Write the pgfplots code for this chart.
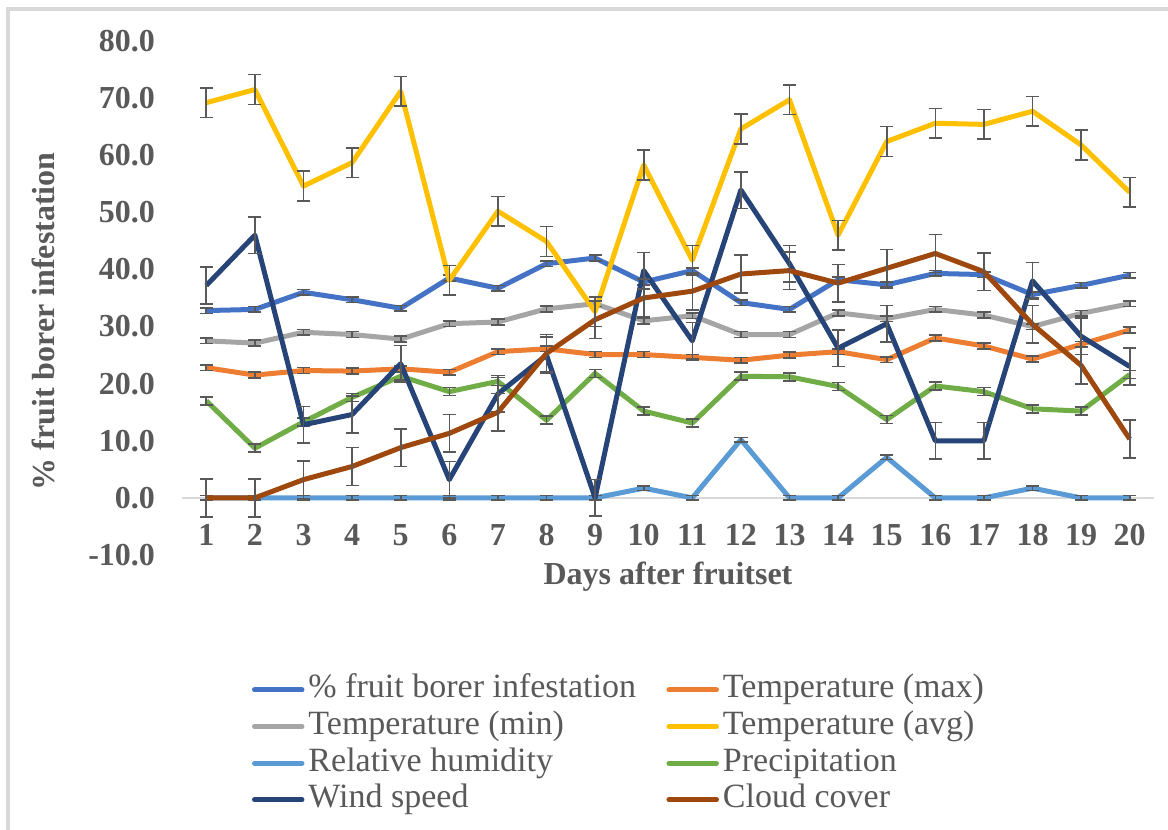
\documentclass[border=0pt]{standalone}
\usepackage{pgfplots}
\pgfplotsset{compat=1.18}
\usepackage{pgfplotstable}
\usepackage{fontspec}
\setmainfont{Liberation Serif}

\definecolor{txt}{HTML}{595959}
\definecolor{ebar}{HTML}{595959}
\definecolor{cinf}{HTML}{4472C4}
\definecolor{cmax}{HTML}{ED7D31}
\definecolor{cmin}{HTML}{A5A5A5}
\definecolor{cavg}{HTML}{FFC000}
\definecolor{crh}{HTML}{5B9BD5}
\definecolor{cprec}{HTML}{70AD47}
\definecolor{cwind}{HTML}{264478}
\definecolor{ccloud}{HTML}{9E480E}

% day, infestation and weather readings per day
\pgfplotstableread{
day inf  tmax tmin tavg rh   prec wind cloud
1   32.8 22.8 27.5 69.2 0    17.0 37.2 0
2   33.0 21.5 27.1 71.5 0    8.7  46.0 0
3   36.0 22.3 29.0 54.6 0    13.3 12.8 3.2
4   34.7 22.2 28.6 58.7 0    17.6 14.6 5.5
5   33.2 22.6 27.8 71.2 0    21.3 23.5 8.8
6   38.5 22.0 30.5 38.1 0    18.6 3.2  11.3
7   36.7 25.6 30.8 50.2 0    20.4 18.2 15.0
8   41.0 26.1 33.1 44.9 0    13.6 25.0 25.3
9   42.0 25.1 34.0 32.6 0    21.8 0    31.2
10  37.8 25.1 31.0 58.3 1.7  15.2 39.8 35.0
11  39.8 24.6 31.9 41.6 0    13.1 27.5 36.2
12  34.2 24.1 28.6 64.6 10.2 21.3 53.9 39.2
13  33.0 25.0 28.6 69.7 0    21.2 41.0 39.8
14  38.2 25.6 32.4 46.0 0    19.5 26.2 37.6
15  37.3 24.2 31.4 62.4 7.1  13.7 30.5 40.2
16  39.3 28.0 33.0 65.6 0    19.6 10.0 42.8
17  39.1 26.6 32.0 65.4 0    18.6 10.0 39.6
18  35.6 24.3 30.0 67.7 1.7  15.6 38.0 30.4
19  37.2 26.9 32.3 61.8 0    15.2 28.3 23.2
20  39.0 29.4 34.0 53.5 0    21.6 23.0 10.3
}\data

\begin{document}
\begin{tikzpicture}
\useasboundingbox (-91pt,-137.5pt) rectangle (493pt,277.5pt);
\draw[black!15, line width=1.6pt] (-87pt,-150pt) -- (-87pt,273pt) -- (510pt,273pt);
\begin{axis}[
  at={(0,0)}, anchor=south west,
  width=486pt, height=257pt, scale only axis,
  xmin=0.5, xmax=20.5, ymin=-10, ymax=80,
  axis line style={draw=none},
  major tick length=0pt,
  xtick={1,2,...,20},
  xticklabels={1,2,3,4,5,6,7,8,9,10,11,12,13,14,15,16,17,18,19,20},
  ytick={-10,0,10,20,30,40,50,60,70,80},
  yticklabels={-10.0,0.0,10.0,20.0,30.0,40.0,50.0,60.0,70.0,80.0},
  ticklabel style={font=\bfseries\fontsize{16}{16}\selectfont, text=txt},
  xticklabel style={anchor=center, yshift=10pt},
  yticklabel style={anchor=east, xshift=-10pt},
  clip=false,
  legend columns=2,
  legend cell align=left,
  legend style={at={(0.072,-0.2315)}, anchor=north west, draw=none, fill=none,
    inner sep=0pt, outer sep=0pt, row sep=2.3pt,
    font=\fontsize{17}{17}\selectfont, text=txt,
    nodes={inner sep=0pt, text height=12pt, text depth=4pt},
    /tikz/every odd column/.append style={column sep=2pt}},
  legend image code/.code={\draw[#1, line cap=round] (1.25pt,0pt) -- (25pt,0pt);},
  every axis plot/.append style={line width=2.5pt, line join=round, mark=none},
  error bars/error bar style={line width=0.8pt, color=ebar, line cap=butt},
  error bars/error mark options={rotate=90, mark size=3.3pt, line width=0.8pt, color=ebar},
]
\draw[black!15, line width=0.75pt] (axis cs:0.5,0) -- (axis cs:20.5,0);
\addplot[cinf, error bars/.cd, y dir=both, y fixed=0.5] table[x=day, y=inf] {\data};
\addlegendentry{\makebox[179pt][l]{\% fruit borer infestation}}
\addplot[cmax, error bars/.cd, y dir=both, y fixed=0.5] table[x=day, y=tmax] {\data};
\addlegendentry{Temperature (max)}
\addplot[cmin, error bars/.cd, y dir=both, y fixed=0.5] table[x=day, y=tmin] {\data};
\addlegendentry{\makebox[179pt][l]{Temperature (min)}}
\addplot[cavg, error bars/.cd, y dir=both, y fixed=2.6] table[x=day, y=tavg] {\data};
\addlegendentry{Temperature (avg)}
\addplot[crh, error bars/.cd, y dir=both, y fixed=0.4] table[x=day, y=rh] {\data};
\addlegendentry{\makebox[179pt][l]{Relative humidity}}
\addplot[cprec, error bars/.cd, y dir=both, y fixed=0.7] table[x=day, y=prec] {\data};
\addlegendentry{Precipitation}
\addplot[cwind, error bars/.cd, y dir=both, y fixed=3.2] table[x=day, y=wind] {\data};
\addlegendentry{\makebox[179pt][l]{Wind speed}}
\addplot[ccloud, error bars/.cd, y dir=both, y fixed=3.3] table[x=day, y=cloud] {\data};
\addlegendentry{Cloud cover}
\end{axis}
\node[rotate=90, font=\bfseries\fontsize{16}{16}\selectfont, text=txt] at (-69.5pt,116.75pt) {\% fruit borer infestation};
\node[font=\bfseries\fontsize{16}{16}\selectfont, text=txt] at (243pt,-11pt) {Days after fruitset};
\end{tikzpicture}
\end{document}
